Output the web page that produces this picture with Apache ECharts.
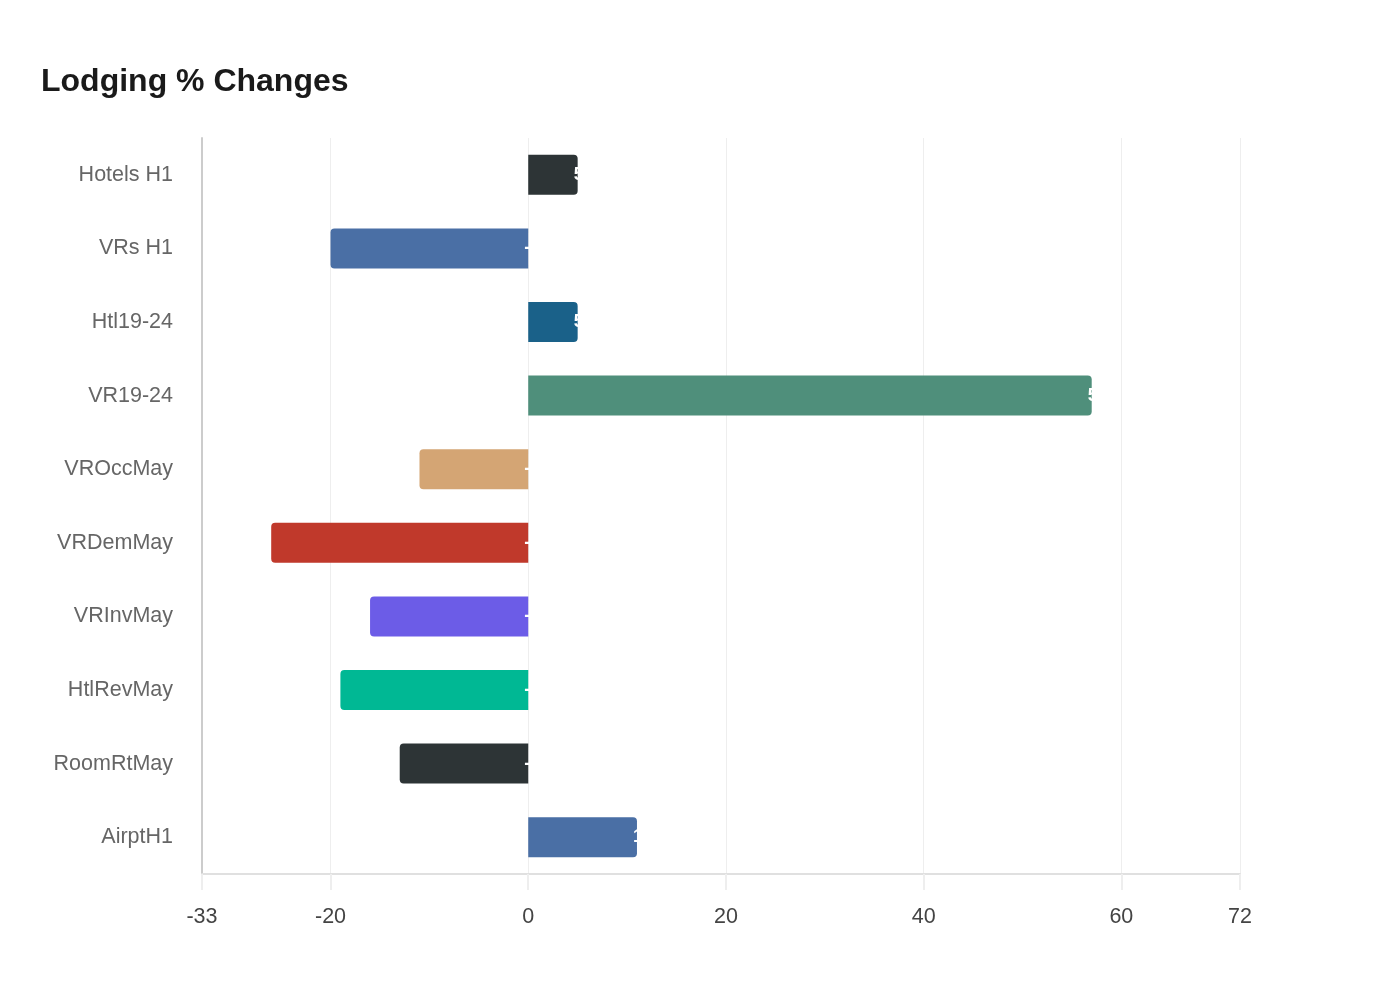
<!DOCTYPE html>
<html>
<head>
<meta charset="utf-8">
<script src="https://cdn.jsdelivr.net/npm/echarts@6/dist/echarts.min.js"></script>
<style>
  html, body { margin: 0; padding: 0; background: #fff; }
  #bar-chart { width: 1400px; height: 1000px; }
</style>
</head>
<body>
<div id="bar-chart"></div>
<script>
var categories = ['Hotels H1', 'VRs H1', 'Htl19-24', 'VR19-24', 'VROccMay', 'VRDemMay', 'VRInvMay', 'HtlRevMay', 'RoomRtMay', 'AirptH1'];
var changes = [5, -20, 5, 57, -11, -26, -16, -19, -13, 11];
var barColors = ['#2d3436', '#4a6fa5', '#1a6189', '#4f8f7b', '#d4a574', '#c0392b', '#6c5ce7', '#00b894', '#2d3436', '#4a6fa5'];
var xTicks = [-33, -20, 0, 20, 40, 60, 72];

function barChart() {
    var chart = echarts.init(document.getElementById('bar-chart'));

    var items = changes.map(function (v, i) {
        return {
            value: v,
            itemStyle: {
                color: barColors[i],
                borderRadius: v >= 0 ? [0, 4, 4, 0] : [4, 0, 0, 4]
            }
        };
    });

    var option = {
        title: {
            text: 'Lodging % Changes',
            left: 36,
            top: 61,
            textStyle: {
                fontFamily: 'Liberation Sans',
                fontSize: 32,
                fontWeight: 'bold',
                color: '#1a1a1a'
            }
        },
        grid: {
            left: 202,
            right: 160,
            top: 138,
            bottom: 126
        },
        xAxis: {
            type: 'value',
            min: xTicks[0],
            max: xTicks[xTicks.length - 1],
            interval: 1,
            axisLine: { show: true, lineStyle: { color: '#e0e0e0', width: 2 } },
            axisTick: {
                show: true,
                length: 16,
                lineStyle: { color: '#eeeeee', width: 2 },
                customValues: xTicks
            },
            splitLine: {
                show: true,
                lineStyle: { color: '#eeeeee', width: 1 },
                showMinLine: false
            },
            axisLabel: {
                customValues: xTicks,
                margin: 32,
                fontFamily: 'Liberation Sans',
                fontSize: 21.5,
                color: '#444'
            }
        },
        yAxis: {
            type: 'category',
            inverse: true,
            data: categories,
            axisLine: { show: true, onZero: false, lineStyle: { color: '#cccccc', width: 2 } },
            axisTick: { show: false },
            axisLabel: {
                margin: 29,
                fontFamily: 'Liberation Sans',
                fontSize: 21.5,
                color: '#666'
            }
        },
        series: [{
            type: 'bar',
            barWidth: 40,
            data: items,
            label: {
                show: true,
                position: 'right',
                distance: -4,
                color: '#fff',
                fontFamily: 'Liberation Sans',
                fontSize: 18,
                fontWeight: 'bold'
            }
        }]
    };

    chart.setOption(option);
    window.onresize = function () {
        chart.resize();
    };
}

barChart();
</script>
</body>
</html>
